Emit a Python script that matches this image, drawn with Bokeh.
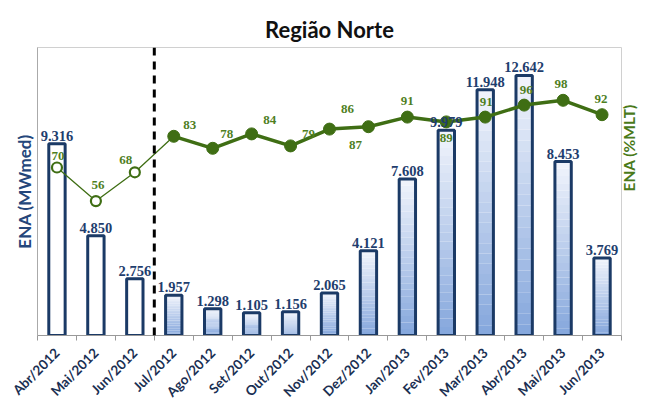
import numpy as np
from bokeh.plotting import figure
from bokeh.models import Range1d, LinearAxis, FixedTicker, Span, ColumnDataSource, LabelSet
from bokeh.embed import file_html
from bokeh.resources import INLINE

months = ["Abr/2012", "Mai/2012", "Jun/2012", "Jul/2012", "Ago/2012", "Set/2012",
          "Out/2012", "Nov/2012", "Dez/2012", "Jan/2013", "Fev/2013", "Mar/2013",
          "Abr/2013", "Mai/2013", "Jun/2013"]
ena_mwmed = [9316, 4850, 2756, 1957, 1298, 1105, 1156, 2065, 4121, 7608, 9979, 11948,
             12642, 8453, 3769]
ena_mlt = [70, 56, 68, 83, 78, 84, 79, 86, 87, 91, 89, 91, 96, 98, 92]
n_verified = 3                      # Abr-Jun/2012: hollow bars / hollow markers

# label placement (screen px offsets from each %MLT point), style only
mlt_lbl_dx = [1, 2, -9, 16, 14, 18, 18, 18, -13, 0, 0, 1, 2, -2, -1]
mlt_lbl_dy = [12, 16, 12, 11, 14, 14, 12, 20, -18, 16, -16, 15, 15, 16, 16]

NAVY = "#1b3a66"
GREEN = "#3f6e14"
GREEN_TXT = "#4f7f1f"
FONT = "Lato"

n = len(months)
x = [i + 0.5 for i in range(n)]

p = figure(width=659, height=411, x_range=Range1d(0, n), y_range=Range1d(0, 14000),
           output_backend="svg", toolbar_location=None,
           min_border_left=37, min_border_right=38, min_border_top=47, min_border_bottom=76)
p.extra_y_ranges = {"pct": Range1d(0, 120)}
p.grid.visible = False
p.outline_line_color = "#d0d0d0"
p.background_fill_color = "white"
p.border_fill_color = "white"
p.styles = {"outline": "1px solid #9a9a9a", "outline-offset": "-2px"}

p.title.text = "Região Norte"
p.title.align = "center"
p.title.text_font = FONT
p.title.text_font_size = "22px"
p.title.text_font_style = "bold"
p.title.text_color = "#111111"

# x axis
xa = p.xaxis[0]
xa.ticker = FixedTicker(ticks=x, minor_ticks=list(range(n + 1)))
xa.major_label_overrides = {xi: m for xi, m in zip(x, months)}
xa.major_label_orientation = np.pi / 4
xa.major_label_text_font = FONT
xa.major_label_text_font_style = "bold"
xa.major_label_text_font_size = "13.5px"
xa.major_label_text_color = "#1a2f52"
xa.major_tick_line_color = None
xa.minor_tick_out = 5
xa.minor_tick_in = 0
xa.minor_tick_line_color = "#999999"
xa.axis_line_color = "#999999"
xa.major_label_standoff = 9

# left axis
ya = p.yaxis[0]
ya.ticker = FixedTicker(ticks=[])
ya.major_tick_line_color = None
ya.minor_tick_line_color = None
ya.major_label_standoff = 0
ya.axis_line_color = "#aaaaaa"
ya.axis_label = "ENA (MWmed)"
ya.axis_label_text_font = FONT
ya.axis_label_text_font_size = "17px"
ya.axis_label_text_font_style = "bold"
ya.axis_label_text_color = "#24467a"
ya.axis_label_standoff = 3

# right axis
ra = LinearAxis(y_range_name="pct", ticker=FixedTicker(ticks=[]))
ra.major_tick_line_color = None
ra.minor_tick_line_color = None
ra.major_label_standoff = 0
ra.axis_line_color = None
ra.axis_label = "ENA (%MLT)"
ra.axis_label_orientation = np.pi / 2
ra.axis_label_text_font = FONT
ra.axis_label_text_font_size = "15.5px"
ra.axis_label_text_font_style = "bold"
ra.axis_label_text_color = "#4a7a1a"
ra.axis_label_standoff = 7
p.add_layout(ra, "right")

# gradient-filled bars (forecast months), built in slices of each bar
BAR_W = 0.42
top_c = np.array([0xf2, 0xf5, 0xfc])
bot_c = np.array([0x84, 0xa6, 0xdc])
NSEG = 24
gx, gb, gt, gc = [], [], [], []
for i in range(n_verified, n):
    v = ena_mwmed[i]
    for k in range(NSEG):
        f = (k + 0.5) / NSEG
        c = bot_c + (top_c - bot_c) * f
        gx.append(x[i])
        gb.append(v * k / NSEG)
        gt.append(v * (k + 1) / NSEG)
        gc.append("#%02x%02x%02x" % tuple(int(round(t)) for t in c))
p.vbar(x=gx, bottom=gb, top=gt, width=BAR_W, fill_color=gc, line_color=None)

fills = ["white" if i < n_verified else None for i in range(n)]
bars = ColumnDataSource(dict(x=x, top=ena_mwmed, fill=fills,
                             lbl=[f"{v:,}".replace(",", ".") for v in ena_mwmed]))
p.vbar(x="x", top="top", width=BAR_W, source=bars, fill_color="fill",
       line_color=NAVY, line_width=3)
p.add_layout(LabelSet(x="x", y="top", text="lbl", source=bars, text_align="center",
                      text_baseline="bottom", y_offset=3, text_font=FONT,
                      text_font_size="14.5px", text_font_style="bold", text_color="#1f3e6e"))

# ENA %MLT line
p.line(x[:n_verified + 1], ena_mlt[:n_verified + 1], y_range_name="pct",
       line_color=GREEN, line_width=1.3)
p.line(x[n_verified:], ena_mlt[n_verified:], y_range_name="pct",
       line_color=GREEN, line_width=3.5)
p.scatter(x[:n_verified], ena_mlt[:n_verified], y_range_name="pct", size=10,
          fill_color="white", line_color=GREEN, line_width=2.2)
p.scatter(x[n_verified:], ena_mlt[n_verified:], y_range_name="pct", size=12,
          fill_color=GREEN, line_color=GREEN)

pts = ColumnDataSource(dict(x=x, y=ena_mlt, lbl=[str(v) for v in ena_mlt],
                            dx=mlt_lbl_dx, dy=mlt_lbl_dy))
p.add_layout(LabelSet(x="x", y="y", text="lbl", source=pts, y_range_name="pct",
                      x_offset="dx", y_offset="dy",
                      text_align="center", text_baseline="middle",
                      text_font=FONT, text_font_size="13px", text_font_style="bold",
                      text_color=GREEN_TXT))

p.add_layout(Span(location=n_verified, dimension="height", line_color="black",
                  line_width=3, line_dash="8 6"))

open("out.html", "w").write(file_html(p, INLINE))
